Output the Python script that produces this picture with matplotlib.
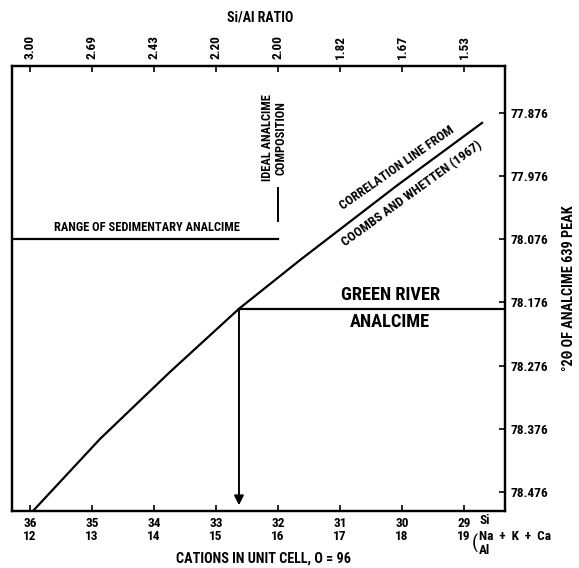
import matplotlib.pyplot as plt
from matplotlib import font_manager

# Cationes en la celda unidad (eje inferior) y razon Si/Al (eje superior)
si_cations = [36, 35, 34, 33, 32, 31, 30, 29]
al_cations = [12, 13, 14, 15, 16, 17, 18, 19]
si_al_ratio = ['3.00', '2.69', '2.43', '2.20', '2.00', '1.82', '1.67', '1.53']
peak_ticks = [77.876, 77.976, 78.076, 78.176, 78.276, 78.376, 78.476]

# linea de correlacion de Coombs y Whetten (1967)
corr_si = [35.952, 34.871, 33.742, 32.629, 31.645, 30.081, 28.710]
corr_peak = [78.506, 78.392, 78.286, 78.186, 78.109, 77.991, 77.892]

# rango de analcima sedimentaria, composicion ideal y Green River
sed_range_end = 32.0
sed_range_peak = 78.076
ideal_si = 32.0
ideal_peak = [77.995, 78.048]
green_river_si = 32.63
green_river_peak = 78.186
arrow_tip_peak = 78.497

XLIM = (36.29, 28.34)
YLIM = (78.506, 77.802)

# buscar una fuente estrecha si existe
nombres = {f.name for f in font_manager.fontManager.ttflist}
FONT = [n for n in ['DejaVu Sans Condensed', 'Liberation Sans Narrow', 'Roboto Condensed',
                    'Open Sans Condensed', 'Inter', 'Roboto'] if n in nombres] + ['DejaVu Sans']
plt.rcParams['font.family'] = FONT
plt.rcParams['font.weight'] = 'bold'

W, H = 579, 568
fig = plt.figure(figsize=(W / 100, H / 100), dpi=100)
ax = fig.add_axes([12 / W, 1 - 511 / H, (505 - 12) / W, (511 - 66) / H])
ax.set_xlim(*XLIM)
ax.set_ylim(*YLIM)

for s in ax.spines.values():
    s.set_linewidth(1.6)

# ejes
ax.set_xticks(si_cations)
ax.set_xticklabels([f"{s}\n{a}" for s, a in zip(si_cations, al_cations)],
                   fontsize=9.5, fontweight='bold', linespacing=1.0)
ax.yaxis.tick_right()
ax.set_yticks(peak_ticks)
ax.set_yticklabels([f"{p:.3f}" for p in peak_ticks], fontsize=9.5, fontweight='bold')
ax.tick_params(direction='in', length=4, width=1.2)
ax.tick_params(axis='x', pad=4)
ax.tick_params(axis='y', pad=4)
ax.yaxis.set_label_position('right')
ax.set_ylabel('°2Θ OF ANALCIME 639 PEAK', fontsize=10.3, fontweight='bold',
              labelpad=10, family=FONT)

top = ax.twiny()
top.set_xlim(*XLIM)
top.set_xticks(si_cations)
top.set_xticklabels(si_al_ratio, rotation=90, fontsize=9.5, fontweight='bold')
top.tick_params(direction='in', length=4, width=1.2, pad=5)
for s in top.spines.values():
    s.set_linewidth(1.6)


def px(x, y):
    return x / W, 1 - y / H


fig.text(*px(260, 18), 'Si/Al RATIO', ha='center', va='center', fontsize=10)
fig.text(*px(264, 559), 'CATIONS IN UNIT CELL, O = 96', ha='center', va='center',
         fontsize=10.2)
fig.text(*px(480, 521), 'Si', ha='left', va='center', fontsize=9.5)
fig.text(*px(472, 543), '(', ha='left', va='center', fontsize=14, fontweight='normal')
fig.text(*px(479, 536), 'Na  +  K  +  Ca', ha='left', va='center', fontsize=9.5)
fig.text(*px(479, 551), 'Al', ha='left', va='center', fontsize=9.5)

# lineas
ax.plot(corr_si, corr_peak, color='black', lw=1.6, solid_joinstyle='round')
ax.plot([XLIM[0], sed_range_end], [sed_range_peak, sed_range_peak], color='black', lw=1.6)
ax.plot([ideal_si, ideal_si], ideal_peak, color='black', lw=1.4)
ax.plot([green_river_si, XLIM[1]], [green_river_peak, green_river_peak], color='black', lw=1.6)
ax.annotate('', xy=(green_river_si, arrow_tip_peak), xytext=(green_river_si, green_river_peak),
            arrowprops=dict(arrowstyle='-|>', color='black', lw=1.4,
                            mutation_scale=14, shrinkA=0, shrinkB=0))

# textos
ax.text(34.11, 78.058, 'RANGE OF SEDIMENTARY ANALCIME', ha='center', va='center', fontsize=8.9)
ax.text(32.06, 77.916, 'IDEAL ANALCIME\nCOMPOSITION', ha='center', va='center',
        rotation=90, fontsize=8.9, linespacing=1.0)
ax.text(30.08, 77.963, 'CORRELATION LINE FROM', ha='center', va='center',
        rotation=35, fontsize=9.3)
ax.text(29.84, 78.004, 'COOMBS AND WHETTEN (1967)', ha='center', va='center',
        rotation=36, fontsize=9.5)
ax.text(30.19, 78.164, 'GREEN RIVER', ha='center', va='center', fontsize=13.2)
ax.text(30.19, 78.207, 'ANALCIME', ha='center', va='center', fontsize=13.2)

fig.savefig('out.png', dpi=100)
